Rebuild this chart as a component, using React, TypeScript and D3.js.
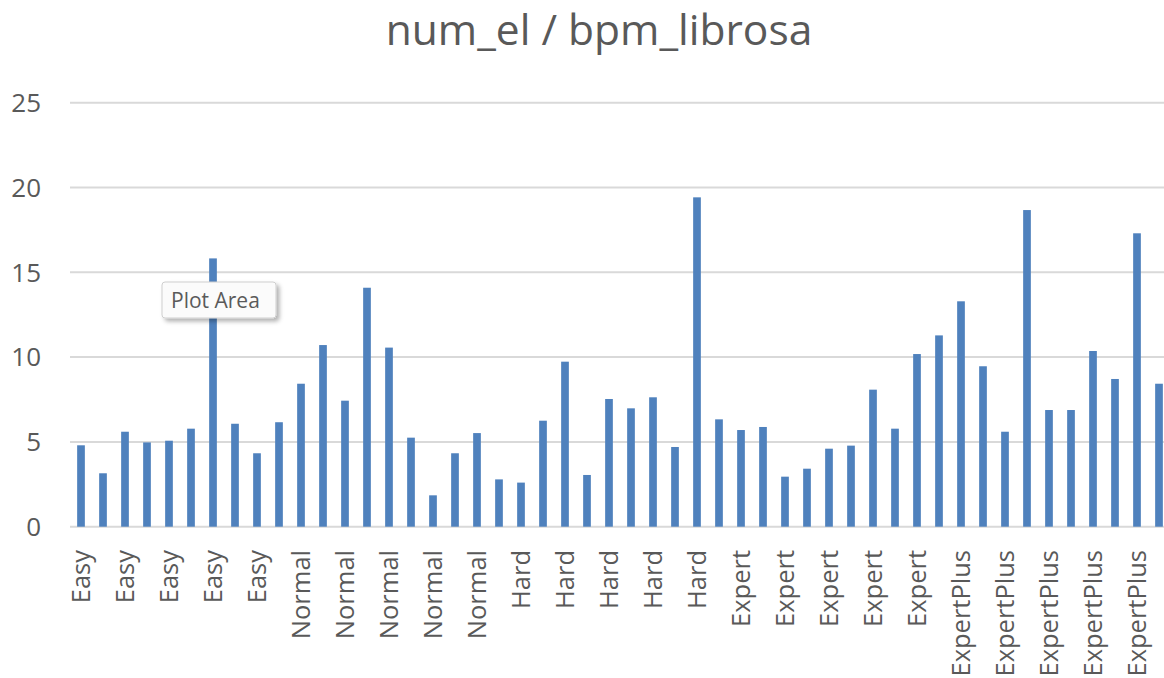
import React from "react";
import * as d3 from "d3";

const title = "num_el / bpm_librosa";
const categories: string[] = [
  "Easy", "Easy", "Easy", "Easy", "Easy", "Easy", "Easy", "Easy", "Easy", "Easy",
  "Normal", "Normal", "Normal", "Normal", "Normal", "Normal", "Normal", "Normal", "Normal", "Normal",
  "Hard", "Hard", "Hard", "Hard", "Hard", "Hard", "Hard", "Hard", "Hard", "Hard",
  "Expert", "Expert", "Expert", "Expert", "Expert", "Expert", "Expert", "Expert", "Expert", "Expert",
  "ExpertPlus", "ExpertPlus", "ExpertPlus", "ExpertPlus", "ExpertPlus", "ExpertPlus", "ExpertPlus", "ExpertPlus", "ExpertPlus", "ExpertPlus",
];
const values: number[] = [
  4.8, 3.15, 5.6, 4.97, 5.07, 5.78, 15.82, 6.07, 4.33, 6.16,
  8.43, 10.71, 7.43, 14.09, 10.56, 5.25, 1.85, 4.33, 5.52, 2.79,
  2.6, 6.25, 9.73, 3.05, 7.53, 6.98, 7.63, 4.7, 19.42, 6.33,
  5.7, 5.88, 2.95, 3.42, 4.6, 4.78, 8.08, 5.78, 10.18, 11.28,
  13.29, 9.46, 5.6, 18.67, 6.88, 6.88, 10.36, 8.71, 17.3, 8.43,
];
const yTicks = [0, 5, 10, 15, 20, 25];
const tooltipText = "Plot Area";

const W = 1164;
const H = 678;
const FONT = "'Open Sans', 'Noto Sans', sans-serif";

export default function App() {
  const idx = values.map((_, i) => i);
  const x = d3.scaleBand<number>().domain(idx).range([70, 1170]).paddingInner(0.65).paddingOuter(0.325);
  const y = d3.scaleLinear().domain([0, 25]).range([526.7, 102.7]);
  const bw = x.bandwidth();

  return (
    <svg width={W} height={H} style={{ position: "absolute", left: 0, top: 0, background: "#fff" }}>
      <defs>
        <filter id="sh" x="-20%" y="-30%" width="150%" height="180%">
          <feDropShadow dx="3" dy="3" stdDeviation="2" floodColor="#000" floodOpacity="0.3" />
        </filter>
      </defs>
      <rect x={0} y={0} width={W} height={H} fill="#fff" />
      <text x={599} y={45} textAnchor="middle" fontFamily={FONT} fontSize={42.5} fill="#595959">
        {title}
      </text>
      {yTicks.map((t) => (
        <g key={t}>
          <line x1={70} x2={1170} y1={y(t)} y2={y(t)} stroke="#d9d9d9" strokeWidth={2} />
          <text x={41} y={y(t)} dy="0.36em" textAnchor="end" fontFamily={FONT} fontSize={26} fill="#595959">
            {t}
          </text>
        </g>
      ))}
      {values.map((v, i) => (
        <rect key={i} x={x(i)} y={y(v)} width={bw} height={y(0) - y(v)} fill="#4f81bd" />
      ))}
      {categories.map((c, i) =>
        i % 2 === 0 ? (
          <text
            key={i}
            transform={`translate(${(x(i) as number) + bw / 2},550) rotate(-90)`}
            dy="0.36em"
            textAnchor="end"
            fontFamily={FONT}
            fontSize={25.5}
            fill="#595959"
          >
            {c}
          </text>
        ) : null
      )}
      <g>
        <rect x={162} y={282} width={114} height={36} rx={3} fill="#fbfbfb" stroke="#cfcfcf" strokeWidth={1} filter="url(#sh)" />
        <text x={171} y={308} fontFamily={FONT} fontSize={21} fill="#5a5a5a">
          {tooltipText}
        </text>
      </g>
    </svg>
  );
}
